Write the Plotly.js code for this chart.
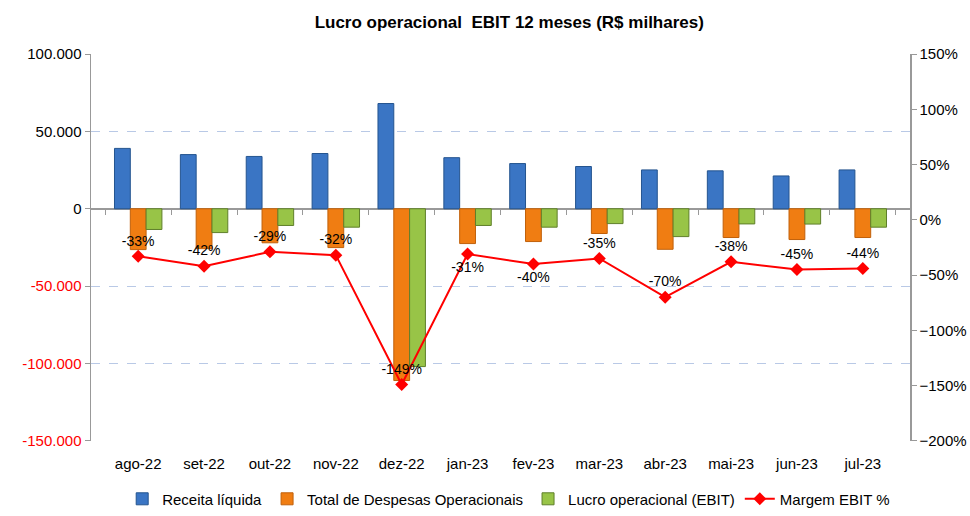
<!DOCTYPE html>
<html>
<head>
<meta charset="utf-8">
<script src="https://cdn.plot.ly/plotly-3.0.1.min.js"></script>
<style>html,body{margin:0;padding:0;background:#fff}#chart{width:970px;height:516px}</style>
</head>
<body>
<div id="chart"></div>
<script>
var categories = ['ago-22','set-22','out-22','nov-22','dez-22','jan-23','fev-23','mar-23','abr-23','mai-23','jun-23','jul-23'];
var receita = [39000, 35000, 33800, 35700, 68000, 33000, 29200, 27300, 25100, 24500, 21200, 25100];
var despesas = [-26400, -25800, -22000, -25100, -111000, -22500, -21200, -16000, -26200, -18600, -19900, -18600];
var lucro = [-13400, -15400, -10800, -11900, -102000, -10800, -11900, -9600, -18000, -9800, -9900, -11900];
var margem = [-33, -42, -29, -32, -149, -31, -40, -35, -70, -38, -45, -44];
var margemPos = ['top center','top center','top center','top center','top center','bottom center','bottom center','top center','top center','top center','top center','top center'];
var leftTickVals = [100000, 50000, 0, -50000, -100000, -150000];
var leftTickText = ['100.000', '50.000', '0', '<span style="fill:#ff0000">-50.000</span>', '<span style="fill:#ff0000">-100.000</span>', '<span style="fill:#ff0000">-150.000</span>'];

var font = 'Liberation Sans, Arial, sans-serif';

var traces = [
  {type:'bar', name:'Receita líquida', x:categories, y:receita,
   marker:{color:'#3a75c4', line:{color:'#24548f', width:1}}},
  {type:'bar', name:'Total de Despesas Operacionais', x:categories, y:despesas,
   marker:{color:'#f07d12', line:{color:'#c0600a', width:1}}},
  {type:'bar', name:'Lucro operacional (EBIT)', x:categories, y:lucro,
   marker:{color:'#98c447', line:{color:'#5f7f2a', width:1}}},
  {type:'scatter', mode:'lines+markers+text', name:'Margem EBIT %', x:categories, y:margem, yaxis:'y2',
   line:{color:'#ff0000', width:2}, marker:{symbol:'diamond', size:10, color:'#ff0000'},
   text:margem.map(function(v){return v+'%';}), textposition:margemPos,
   textfont:{family:font, size:14, color:'#000'}, cliponaxis:false},
  {type:'scatter', mode:'markers', x:categories, y:categories.map(function(){return null;}), xaxis:'x2',
   showlegend:false, hoverinfo:'skip'}
];

var layout = {
  width:970, height:516,
  margin:{l:91, r:60, t:54, b:0},
  paper_bgcolor:'#fff', plot_bgcolor:'#fff',
  title:{text:'<b>Lucro operacional  EBIT 12 meses (R$ milhares)</b>', font:{family:font, size:17, color:'#000'}, x:0.525, xanchor:'center', y:0.957, yanchor:'middle'},
  barmode:'group', bargap:0.28, bargroupgap:0,
  font:{family:font, size:14, color:'#000'},
  xaxis:{type:'category', showline:false, showgrid:false, zeroline:false, ticks:'', ticklabelstandoff:12, tickfont:{family:font, size:15, color:'#000'}},
  xaxis2:{type:'category', overlaying:'x', anchor:'free', position:0.6615, showline:false, showgrid:false, zeroline:false,
    ticks:'outside', ticklen:6, tickcolor:'#999', tickson:'boundaries', showticklabels:false, matches:'x'},
  yaxis:{domain:[0.1516, 1], range:[-150000, 100000], tickvals:leftTickVals, ticktext:leftTickText,
    showgrid:true, gridcolor:'#b9c9e6', griddash:'dash', gridwidth:1,
    zeroline:true, zerolinecolor:'#999', zerolinewidth:1.5,
    showline:true, linecolor:'#999', linewidth:1.5, ticks:'outside', ticklen:5, tickcolor:'#999',
    tickfont:{family:font, size:15, color:'#000'}},
  yaxis2:{domain:[0.1516, 1], overlaying:'y', side:'right', range:[-200, 150], dtick:50, ticksuffix:'%',
    showgrid:false, zeroline:false, showline:true, linecolor:'#999', linewidth:1.5, ticks:'outside', ticklen:5, tickcolor:'#999',
    tickfont:{family:font, size:15, color:'#000'}},
  legend:{orientation:'h', x:0.51, xanchor:'center', y:0.024, yanchor:'middle', font:{family:font, size:15, color:'#000'}, itemwidth:30, traceorder:'normal'},
  showlegend:true
};

Plotly.newPlot('chart', traces, layout, {displayModeBar:false, staticPlot:true});
</script>
</body>
</html>
